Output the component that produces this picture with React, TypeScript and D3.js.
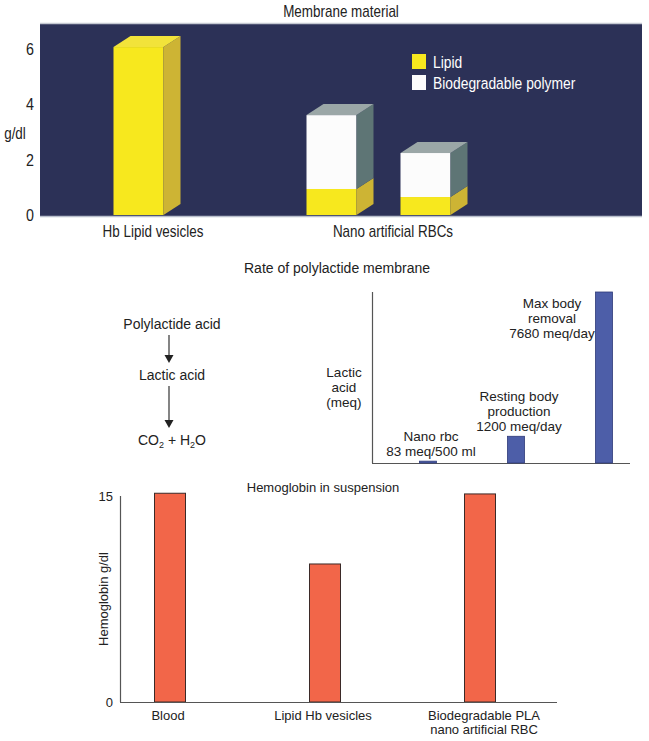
import React from 'react'
import * as d3 from 'd3'

// Membrane material (top panel)
const membraneGroups = ['Hb Lipid vesicles', 'Nano artificial RBCs']
const membraneBarGroup = [0, 1, 1]
const lipidValues = [6.07, 0.94, 0.65]
const polymerValues = [0, 2.67, 1.59]
const membraneTicks = [0, 2, 4, 6]
const legendLabels = ['Lipid', 'Biodegradable polymer']

// Rate of polylactide membrane (middle)
const pathwaySteps = ['Polylactide acid', 'Lactic acid', 'CO2 + H2O']
const lacticLabels = [
  ['Nano rbc', '83 meq/500 ml'],
  ['Resting body', 'production', '1200 meq/day'],
  ['Max body', 'removal', '7680 meq/day']
]
const lacticValues = [83, 1200, 7680]

// Hemoglobin in suspension (bottom)
const hbCategories = [['Blood'], ['Lipid Hb vesicles'], ['Biodegradable PLA', 'nano artificial RBC']]
const hbValues = [15.2, 10.05, 15.15]
const hbTicks = [0, 15]

const W = 649
const H = 741
const sans = '"Liberation Sans", Arial, Helvetica, sans-serif'
const ink = '#222'

const colors = {
  panel: '#2c3157',
  lipidFront: '#f7e81e',
  lipidSide: '#cdb434',
  lipidTop: '#f2e33a',
  polyFront: '#fcfcfc',
  polySide: '#5e7575',
  polyTop: '#9ba7a7',
  lactic: '#4d5ea8',
  lacticStroke: '#2f3a78',
  hb: '#f26649',
  hbStroke: '#3b2a28',
  axis: '#555'
}

// condensed face of the top panel: regular sans squeezed horizontally
function Narrow({ x, y, size = 16, anchor = 'start', fill = ink, children }: any) {
  return (
    <text
      transform={`translate(${x},${y}) scale(0.84,1)`}
      textAnchor={anchor}
      fontFamily={sans}
      fontSize={size}
      fill={fill}
    >
      {children}
    </text>
  )
}

function MembraneChart() {
  const y = d3.scaleLinear().domain([0, 6]).range([215, 49])
  const xGroup = d3.scaleBand<number>().domain([0, 1]).range([27, 507])
  const barW = 50
  const dx = 17
  const dy = -11
  const step = 94

  const bars = lipidValues.map((lipid, i) => {
    const g = membraneBarGroup[i]
    const members = membraneBarGroup.map((v, k) => ({ v, k })).filter(d => d.v === g)
    const j = members.findIndex(d => d.k === i)
    const n = members.length
    const center = xGroup(g)! + xGroup.bandwidth() / 2 + (j - (n - 1) / 2) * step - dx / 2
    const x0 = center - barW / 2
    const segments = [
      { from: 0, to: lipid, front: colors.lipidFront, side: colors.lipidSide, top: colors.lipidTop },
      { from: lipid, to: lipid + polymerValues[i], front: colors.polyFront, side: colors.polySide, top: colors.polyTop }
    ].filter(s => s.to > s.from)
    return { x0, segments }
  })

  return (
    <g>
      <Narrow x={341} y={17} anchor="middle">Membrane material</Narrow>
      <rect x={40} y={23} width={602} height={194} fill={colors.panel} />
      <line x1={40} x2={642} y1={23.5} y2={23.5} stroke="#c5c9d2" strokeWidth={1.5} />
      <line x1={40} x2={642} y1={216.5} y2={216.5} stroke="#b9bfcc" strokeWidth={1.5} />

      {bars.map((b, i) => (
        <g key={i}>
          {b.segments.map((s, k) => {
            const yt = y(s.to)
            const yb = y(s.from)
            const xr = b.x0 + barW
            const isTop = k === b.segments.length - 1
            return (
              <g key={k}>
                <rect x={b.x0} y={yt} width={barW} height={yb - yt} fill={s.front} />
                <polygon
                  points={`${xr},${yb} ${xr + dx},${yb + dy} ${xr + dx},${yt + dy} ${xr},${yt}`}
                  fill={s.side}
                />
                {isTop && (
                  <polygon
                    points={`${b.x0},${yt} ${b.x0 + dx},${yt + dy} ${xr + dx},${yt + dy} ${xr},${yt}`}
                    fill={s.top}
                  />
                )}
              </g>
            )
          })}
        </g>
      ))}

      {membraneTicks.map(t => (
        <Narrow key={t} x={34} y={y(t) + 6} anchor="end" size={17}>{t}</Narrow>
      ))}
      <Narrow x={15} y={139} anchor="middle">g/dl</Narrow>

      {membraneGroups.map((g, i) => (
        <Narrow key={g} x={xGroup(i)! + xGroup.bandwidth() / 2 + 6} y={237} anchor="middle">
          {g}
        </Narrow>
      ))}

      {legendLabels.map((l, i) => (
        <g key={l} transform={`translate(412, ${54 + i * 21})`}>
          <rect width={14} height={15} fill={i === 0 ? colors.lipidFront : colors.polyFront} />
          <Narrow x={21} y={13.5} size={16.5} fill="#fff">{l}</Narrow>
        </g>
      ))}
    </g>
  )
}

function SubText({ text, x, y }: { text: string; x: number; y: number }) {
  const parts = text.split(/(\d)/).filter(p => p.length)
  return (
    <text x={x} y={y} textAnchor="middle" fontFamily={sans} fontSize={14} fill={ink}>
      {parts.map((p, i) =>
        /\d/.test(p) ? (
          <tspan key={i} fontSize={9} dy={3}>{p}</tspan>
        ) : (
          <tspan key={i} dy={i > 0 && /\d/.test(parts[i - 1]) ? -3 : 0}>{p}</tspan>
        )
      )}
    </text>
  )
}

function LacticChart() {
  const x = d3.scalePoint<number>().domain(lacticValues.map((_, i) => i)).range([384, 648]).padding(0.5)
  const y = d3.scaleLinear().domain([0, 7680]).range([463, 292])
  const barW = 17
  const maxV = d3.max(lacticValues)!
  const stepY = [329, 380, 445]
  const arrowX = 169

  return (
    <g>
      <text x={337} y={273} textAnchor="middle" fontFamily={sans} fontSize={14} fill={ink}>
        Rate of polylactide membrane
      </text>

      {pathwaySteps.map((s, i) => (
        <SubText key={s} text={s} x={172} y={stepY[i]} />
      ))}
      {[0, 1].map(i => {
        const y1 = stepY[i] + 6
        const y2 = stepY[i + 1] - 17
        return (
          <g key={i}>
            <line x1={arrowX} x2={arrowX} y1={y1} y2={y2 - 7} stroke="#333" strokeWidth={1.2} />
            <polygon points={`${arrowX - 4.5},${y2 - 8} ${arrowX + 4.5},${y2 - 8} ${arrowX},${y2}`} fill="#222" />
          </g>
        )
      })}

      <line x1={372.5} x2={372.5} y1={292} y2={463} stroke={colors.axis} strokeWidth={1.2} />
      <line x1={372} x2={630} y1={463.5} y2={463.5} stroke={colors.axis} strokeWidth={1.2} />

      {['Lactic', 'acid', '(meq)'].map((t, i) => (
        <text key={t} x={344} y={377 + i * 15} textAnchor="middle" fontFamily={sans} fontSize={13.5} fill={ink}>
          {t}
        </text>
      ))}

      {lacticValues.map((v, i) => {
        const cx = x(i)!
        const top = y(v)
        return (
          <rect
            key={i}
            x={cx - barW / 2}
            y={top}
            width={barW}
            height={y(0) - top}
            fill={colors.lactic}
            stroke={colors.lacticStroke}
            strokeWidth={0.8}
          />
        )
      })}

      {lacticLabels.map((lines, i) => {
        const cx = x(i)!
        const top = y(lacticValues[i])
        const isMax = lacticValues[i] === maxV
        const lx = isMax ? cx - 52 : cx + 3
        const firstBaseline = isMax ? top + 16 : top - 5 - (lines.length - 1) * 15
        return (
          <g key={i}>
            {lines.map((l, k) => (
              <text
                key={k}
                x={lx}
                y={firstBaseline + k * 15}
                textAnchor="middle"
                fontFamily={sans}
                fontSize={13.5}
                fill={ink}
              >
                {l}
              </text>
            ))}
          </g>
        )
      })}
    </g>
  )
}

function HemoglobinChart() {
  const x = d3.scalePoint<number>().domain(hbValues.map((_, i) => i)).range([170, 480])
  const y = d3.scaleLinear().domain([0, 15]).range([702, 496])
  const barW = 31

  return (
    <g>
      <text x={323} y={492} textAnchor="middle" fontFamily={sans} fontSize={13} fill={ink}>
        Hemoglobin in suspension
      </text>

      {hbValues.map((v, i) => {
        const cx = x(i)!
        const top = y(v)
        return (
          <rect
            key={i}
            x={cx - barW / 2}
            y={top}
            width={barW}
            height={y(0) - top}
            fill={colors.hb}
            stroke={colors.hbStroke}
            strokeWidth={1}
          />
        )
      })}

      <line x1={120.5} x2={120.5} y1={496} y2={702} stroke={colors.axis} strokeWidth={1.2} />
      <line x1={120} x2={557} y1={702.5} y2={702.5} stroke={colors.axis} strokeWidth={1.2} />

      {hbTicks.map(t => (
        <text key={t} x={113} y={y(t)} dy="0.36em" textAnchor="end" fontFamily={sans} fontSize={13} fill={ink}>
          {t}
        </text>
      ))}

      <text
        transform="translate(108, 599) rotate(-90)"
        textAnchor="middle"
        fontFamily={sans}
        fontSize={13}
        fill={ink}
      >
        Hemoglobin g/dl
      </text>

      {hbCategories.map((lines, i) => (
        <g key={i}>
          {lines.map((l, k) => (
            <text
              key={k}
              x={x(i)! + (i === 2 ? 4 : -2)}
              y={720 + k * 14}
              textAnchor="middle"
              fontFamily={sans}
              fontSize={13}
              fill={ink}
            >
              {l}
            </text>
          ))}
        </g>
      ))}
    </g>
  )
}

export default function App() {
  return (
    <svg
      width={W}
      height={H}
      viewBox={`0 0 ${W} ${H}`}
      style={{ position: 'absolute', left: 0, top: 0, background: '#fff' }}
    >
      <MembraneChart />
      <LacticChart />
      <HemoglobinChart />
    </svg>
  )
}
